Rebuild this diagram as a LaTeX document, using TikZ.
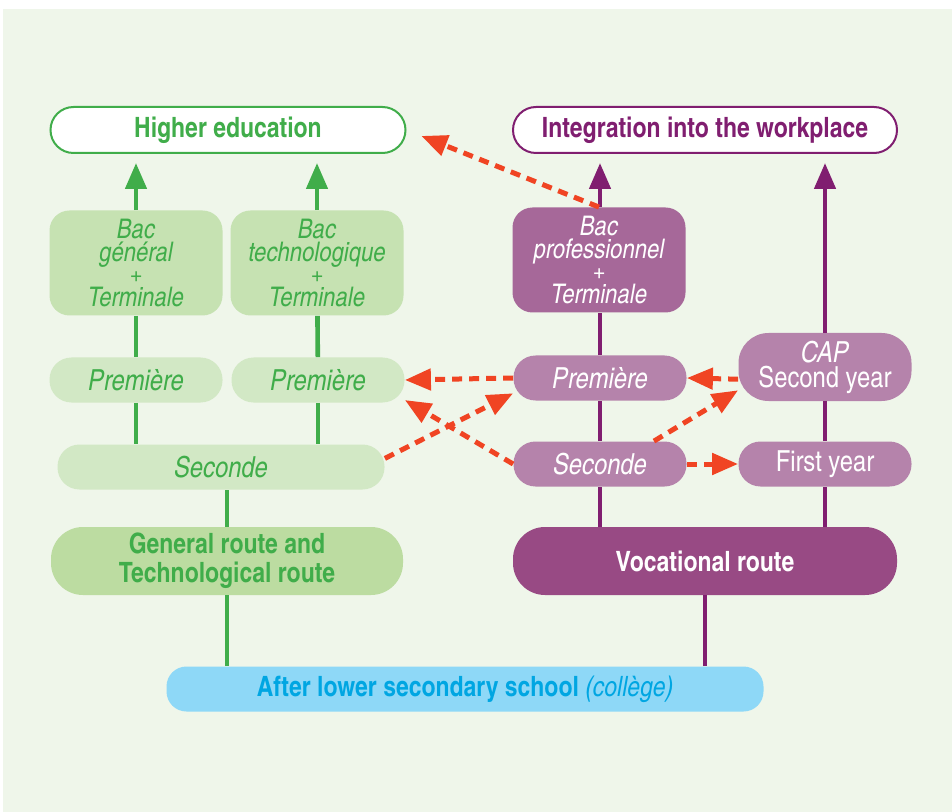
\documentclass[tikz,border=0pt]{standalone}
\usepackage{fontspec}
\setmainfont{texgyreheroscn}[Extension=.otf, UprightFont=*-regular, BoldFont=*-bold, ItalicFont=*-italic, BoldItalicFont=*-bolditalic]
\usepackage{tikz}
\usetikzlibrary{arrows.meta, positioning}
\definecolor{frgreen}{RGB}{64, 173, 74}
\definecolor{frgreenbox}{RGB}{198, 226, 178}
\definecolor{frgreenlight}{RGB}{210, 232, 197}
\definecolor{frgreenroute}{RGB}{188, 220, 161}
\definecolor{frpurple}{RGB}{128, 30, 112}
\definecolor{frpurplebox}{RGB}{166, 104, 153}
\definecolor{frpurplelight}{RGB}{181, 131, 171}
\definecolor{frpurpleroute}{RGB}{152, 74, 132}
\definecolor{frred}{RGB}{240, 68, 35}
\definecolor{frblue}{RGB}{0, 166, 226}
\definecolor{frbluebox}{RGB}{142, 216, 247}
\definecolor{frbg}{RGB}{239, 246, 234}

\begin{document}
\begin{tikzpicture}[x=0.5pt, y=-0.5pt,
    goal/.style={draw, line width=1pt, fill=white, rounded corners=11.5pt, minimum height=23pt, inner sep=0pt, font=\fontsize{14}{14.5}\selectfont\bfseries},
    bacbox/.style={rounded corners=10pt, minimum width=86.5pt, minimum height=52.5pt, inner sep=0pt, align=center, font=\fontsize{13.5}{11.4}\selectfont\itshape},
    yearbox/.style={rounded corners=11pt, minimum width=86.5pt, minimum height=22.5pt, inner sep=0pt, align=center, font=\fontsize{14.5}{12.5}\selectfont},
    routebox/.style={rounded corners=16pt, minimum height=34pt, inner sep=0pt, align=center, font=\fontsize{14}{14.5}\selectfont\bfseries},
    track/.style={line width=2.3pt},
    up/.style={track, -{Triangle[length=13pt, width=10.5pt]}},
    switch/.style={frred, line width=2.5pt, dash pattern=on 5pt off 3.5pt, -{Triangle[length=13pt, width=10.5pt]}}]
\useasboundingbox (0,0) rectangle (952,812);
\fill[frbg] (3,9) rectangle (952,812);

% Goals
\node[goal, draw=frgreen, text=frgreen, minimum width=177.5pt] (higher) at (228,130) {Higher education};
\node[goal, draw=frpurple, text=frpurple, minimum width=192pt] (work) at (705,130) {Integration into the workplace};

% Final years
\node[bacbox, fill=frgreenbox, text=frgreen] (bacgen) at (136,263) {Bac\\général\\+\\Terminale};
\node[bacbox, fill=frgreenbox, text=frgreen] (bactech) at (317,263) {Bac\\technologique\\+\\Terminale};
\node[bacbox, fill=frpurplebox, text=white] (bacpro) at (599,260) {Bac\\professionnel\\+\\Terminale};

% Years
\node[yearbox, fill=frgreenlight, text=frgreen] (prem1) at (136,380) {\itshape Première};
\node[yearbox, fill=frgreenlight, text=frgreen] (prem2) at (318,380) {\itshape Première};
\node[yearbox, fill=frgreenlight, text=frgreen, minimum width=163.5pt] (secg) at (221,467) {\itshape Seconde};
\node[yearbox, fill=frpurplelight, text=white] (premp) at (600,378) {\itshape Première};
\node[yearbox, fill=frpurplelight, text=white] (secp) at (600,464) {\itshape Seconde};
\node[yearbox, fill=frpurplelight, text=white, minimum height=34pt, rounded corners=15pt] (cap) at (825,367) {\textit{CAP}\\Second year};
\node[yearbox, fill=frpurplelight, text=white] (first) at (825,464) {First year};

% Routes
\node[routebox, fill=frgreenroute, text=frgreen, minimum width=176pt] (genroute) at (227,561) {General route and\\Technological route};
\node[routebox, fill=frpurpleroute, text=white, minimum width=192pt] (vocroute) at (705,561) {Vocational route};
\node[routebox, fill=frbluebox, text=frblue, minimum width=298.5pt, minimum height=22.5pt, rounded corners=10pt] (college) at (465,689) {After lower secondary school \textit{\mdseries (collège)}};

% Green tracks
\coordinate (higen) at (136,163);
\coordinate (hitech) at (317,163);
\draw[up, frgreen] (bacgen) -- (higen);
\draw[up, frgreen] (bactech) -- (hitech);
\draw[track, frgreen] (bacgen) -- (prem1);
\draw[track, frgreen] (bactech) -- (prem2);
\draw[track, frgreen] (prem1.south) -- (prem1.south |- secg.north);
\draw[track, frgreen] (prem2.south) -- (prem2.south |- secg.north);
\draw[track, frgreen] (genroute.north) -- (genroute.north |- secg.south);
\draw[track, frgreen] (college.north -| genroute) -- (genroute.south);

% Purple tracks
\coordinate (wkpro) at (600,163);
\coordinate (wkcap) at (825,163);
\draw[up, frpurple] (bacpro.north -| secp) -- (wkpro);
\draw[up, frpurple] (cap) -- (wkcap);
\draw[track, frpurple] (vocroute.north -| secp) -- (secp.south);
\draw[track, frpurple] (secp) -- (premp);
\draw[track, frpurple] (premp) -- (premp.north |- bacpro.south);
\draw[track, frpurple] (vocroute.north -| first) -- (first.south);
\draw[track, frpurple] (first) -- (cap);
\draw[track, frpurple] (college.north -| vocroute) -- (vocroute.south);

% Bridges between routes
\draw[switch, shorten >=8pt] (bacpro.north) -- (higher.east);
\draw[switch] (premp.west) -- (prem2.east);
\draw[switch] (cap.188) -- (premp.east);
\draw[switch] (secg.3) -- (premp.190);
\draw[switch] (secp.west) -- (prem2.-13);
\draw[switch] (secp.23) -- (cap.195);
\draw[switch] (secp.east) -- (first.west);
\end{tikzpicture}
\end{document}
